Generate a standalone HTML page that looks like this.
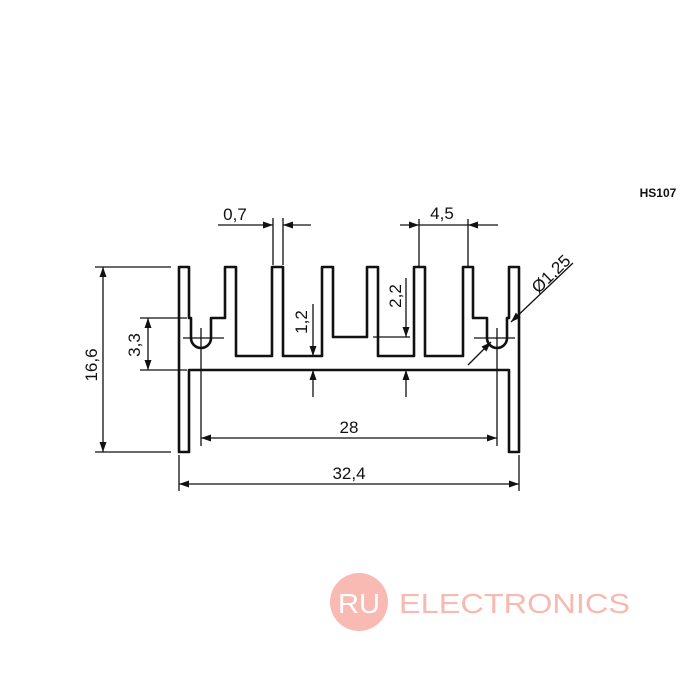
<!DOCTYPE html>
<html><head><meta charset="utf-8"><style>
html,body{margin:0;padding:0;background:#fff;}
svg{display:block;}
text{font-family:"Liberation Sans",sans-serif;fill:#111;}
</style></head><body>
<svg width="700" height="700" viewBox="0 0 700 700" xmlns="http://www.w3.org/2000/svg">
<defs>
<marker id="a" viewBox="0 0 10 10" refX="10" refY="5" markerWidth="11" markerHeight="10" markerUnits="userSpaceOnUse" orient="auto-start-reverse">
<path d="M0,1.5 L10,5 L0,8.5 Z" fill="#111"/></marker>
</defs>
<text x="658" y="197" font-size="12" font-weight="bold" text-anchor="middle">HS107</text>
<path d="M179,452 L179,267 L189,267 L189,318 L191,318 L191,338 A10,10 0 0 0 211,338 L211,318 L225,318 L225,267 L236,267 L236,356 L272,356 L272,267 L283,267 L283,356 L322,356 L322,267 L333,267 L333,337 L367,337 L367,267 L378,267 L378,356 L414,356 L414,267 L425,267 L425,356 L463,356 L463,267 L473,267 L473,318 L487,318 L487,338 A10,10 0 0 0 507,338 L507,318 L509,318 L509,267 L519,267 L519,452 L509,452 L509,370 L189,370 L189,452 Z" fill="none" stroke="#111" stroke-width="2.6" stroke-linejoin="round"/>
<g stroke="#111" stroke-width="1.3" fill="none">
<line x1="95" y1="267" x2="171" y2="267"/><line x1="95" y1="452" x2="171" y2="452"/>
<line x1="103" y1="267" x2="103" y2="452" marker-start="url(#a)" marker-end="url(#a)"/>
<line x1="140" y1="318" x2="187" y2="318"/><line x1="140" y1="370" x2="187" y2="370"/>
<line x1="148" y1="318" x2="148" y2="370" marker-start="url(#a)" marker-end="url(#a)"/>
<line x1="183" y1="338" x2="224" y2="338"/><line x1="201" y1="328" x2="201" y2="446"/>
<line x1="474" y1="338" x2="515" y2="338"/><line x1="497" y1="328" x2="497" y2="446"/>
<line x1="273" y1="218" x2="273" y2="265"/><line x1="283" y1="218" x2="283" y2="265"/>
<line x1="218" y1="225" x2="273" y2="225" marker-end="url(#a)"/>
<line x1="311" y1="225" x2="283" y2="225" marker-end="url(#a)"/>
<line x1="419" y1="219" x2="419" y2="267"/><line x1="468" y1="219" x2="468" y2="267"/>
<line x1="400" y1="225" x2="419" y2="225" marker-end="url(#a)"/>
<line x1="498" y1="225" x2="468" y2="225" marker-end="url(#a)"/>
<line x1="419" y1="225" x2="468" y2="225"/>
<line x1="313" y1="304" x2="313" y2="356" marker-end="url(#a)"/>
<line x1="313" y1="397" x2="313" y2="370" marker-end="url(#a)"/>
<line x1="373" y1="337" x2="410" y2="337"/>
<line x1="406" y1="278" x2="406" y2="337" marker-end="url(#a)"/>
<line x1="406" y1="397" x2="406" y2="370" marker-end="url(#a)"/>
<line x1="201" y1="438" x2="497" y2="438" marker-start="url(#a)" marker-end="url(#a)"/>
<line x1="179" y1="455" x2="179" y2="491"/><line x1="519" y1="455" x2="519" y2="491"/>
<line x1="179" y1="484" x2="519" y2="484" marker-start="url(#a)" marker-end="url(#a)"/>
<line x1="468" y1="365" x2="491" y2="342" marker-end="url(#a)"/>
<line x1="573" y1="263" x2="511" y2="322" marker-end="url(#a)"/>
</g>
<text x="235" y="220" font-size="17" text-anchor="middle">0,7</text>
<text x="442" y="219" font-size="17" text-anchor="middle">4,5</text>
<text x="349" y="433" font-size="17" text-anchor="middle">28</text>
<text x="349" y="479" font-size="17" text-anchor="middle">32,4</text>
<text transform="translate(97,365) rotate(-90)" font-size="17" text-anchor="middle">16,6</text>
<text transform="translate(140,345) rotate(-90)" font-size="17" text-anchor="middle">3,3</text>
<text transform="translate(307,322) rotate(-90)" font-size="17" text-anchor="middle">1,2</text>
<text transform="translate(401,296) rotate(-90)" font-size="17" text-anchor="middle">2,2</text>
<text transform="translate(555,278) rotate(-44)" font-size="17" text-anchor="middle">Ø1,25</text>
<circle cx="359" cy="602" r="29" fill="#f9bab3"/>
<text x="359" y="613" font-size="28" style="fill:#fff" text-anchor="middle" textLength="42" lengthAdjust="spacingAndGlyphs">RU</text>
<text x="399" y="613" font-size="28" style="fill:#f8b9b1" textLength="231" lengthAdjust="spacingAndGlyphs">ELECTRONICS</text>
</svg>
</body></html>
